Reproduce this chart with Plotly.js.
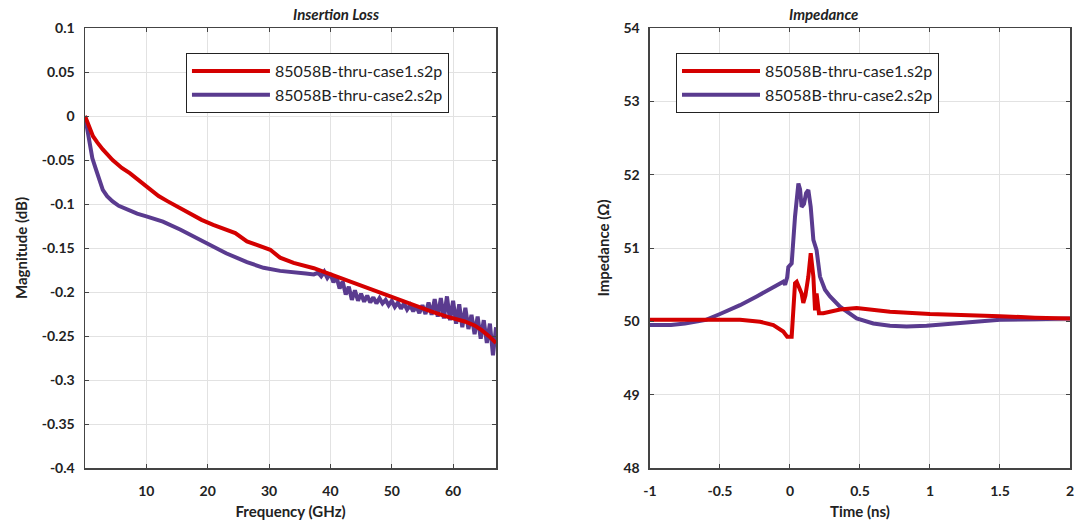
<!DOCTYPE html>
<html>
<head>
<meta charset="utf-8">
<script src="https://cdn.plot.ly/plotly-3.0.1.min.js"></script>
<style>
  html, body { margin: 0; padding: 0; background: #ffffff; }
  #chart { width: 1075px; height: 527px; }
</style>
</head>
<body>
<div id="chart"></div>
<script>
// ---------- Data: Insertion Loss (left) ----------
const seriesNames = ["85058B-thru-case1.s2p", "85058B-thru-case2.s2p"];

const ilFreqCase1 = [0, 0.2, 0.6, 1.3, 2, 2.9, 4.5, 6, 7.3, 8.5, 10, 12, 13.5, 15.5, 17, 19, 20.9, 22.5, 24.5, 26.4, 28, 30.2, 31.8, 34, 37.3, 40, 43, 46, 49.9, 53, 56.4, 59, 61.9, 63.5, 64.6, 66, 67];
const ilMagCase1 = [0, -0.004, -0.012, -0.023, -0.03, -0.038, -0.050, -0.059, -0.065, -0.072, -0.080, -0.091, -0.097, -0.1045, -0.111, -0.118, -0.1236, -0.128, -0.133, -0.1425, -0.147, -0.152, -0.161, -0.167, -0.173, -0.180, -0.188, -0.196, -0.205, -0.213, -0.222, -0.228, -0.2335, -0.238, -0.243, -0.251, -0.258];

const ilFreqCase2 = [0, 0.3, 0.72, 1.2, 1.8, 2.3, 2.9, 3.6, 4.5, 5.5, 7.3, 8.5, 10, 12.7, 15.5, 18, 20.9, 23, 26.4, 29.1, 31.8, 34, 36, 37.3,
  38, 38.5, 39, 39.5, 40, 40.5, 41, 41.5, 42, 42.5, 43, 43.5, 44, 44.5, 45, 45.5, 46, 46.5, 47, 47.5, 48, 48.5, 49, 49.5,
  50, 50.5, 51, 51.5, 52, 52.5, 53, 53.5, 54, 54.5, 55, 55.5, 56, 56.5, 57, 57.5, 58, 58.5, 59, 59.5,
  60, 60.5, 61, 61.5, 62, 62.5, 63, 63.5, 64, 64.5, 65, 65.5, 66, 66.5, 67];
const ilMagCase2 = [0, -0.012, -0.034, -0.048, -0.061, -0.073, -0.084, -0.091, -0.097, -0.102, -0.108, -0.111, -0.114, -0.120, -0.129, -0.138, -0.149, -0.156, -0.166, -0.1725, -0.176, -0.177, -0.179, -0.180,
  -0.178, -0.182, -0.177, -0.184, -0.179, -0.189, -0.183, -0.196, -0.188, -0.203, -0.194, -0.209, -0.198, -0.210, -0.202, -0.211, -0.204, -0.212, -0.206, -0.213, -0.207, -0.213, -0.209, -0.215,
  -0.210, -0.217, -0.212, -0.219, -0.213, -0.220, -0.215, -0.222, -0.216, -0.224, -0.215, -0.225, -0.212, -0.226, -0.208, -0.228, -0.207, -0.230, -0.205, -0.232,
  -0.210, -0.236, -0.214, -0.240, -0.218, -0.242, -0.226, -0.248, -0.228, -0.253, -0.232, -0.258, -0.236, -0.272, -0.240];

const ilXTickVals = [10, 20, 30, 40, 50, 60];
const ilXTickText = ["10", "20", "30", "40", "50", "60"];
const ilYTickVals = [0.1, 0.05, 0, -0.05, -0.1, -0.15, -0.2, -0.25, -0.3, -0.35, -0.4];
const ilYTickText = ["0.1", "0.05", "0", "-0.05", "-0.1", "-0.15", "-0.2", "-0.25", "-0.3", "-0.35", "-0.4"];

// ---------- Data: Impedance (right) ----------
const zTimeCase1 = [-1, -0.75, -0.5, -0.357, -0.214, -0.119, -0.048, -0.02, 0.012, 0.024, 0.036, 0.048, 0.065, 0.083, 0.095, 0.11, 0.131, 0.148, 0.167, 0.179, 0.19, 0.207, 0.238, 0.3, 0.357, 0.476, 0.714, 1.0, 1.25, 1.5, 1.75, 2];
const zOhmCase1 = [50.02, 50.02, 50.02, 50.02, 49.995, 49.95, 49.86, 49.79, 49.79, 50.15, 50.52, 50.54, 50.45, 50.38, 50.25, 50.35, 50.61, 50.93, 50.61, 50.15, 50.38, 50.11, 50.11, 50.14, 50.16, 50.18, 50.13, 50.10, 50.09, 50.07, 50.05, 50.04];

const zTimeCase2 = [-1, -0.85, -0.75, -0.6, -0.5, -0.357, -0.238, -0.119, -0.071, -0.048, -0.035, -0.02, -0.012, 0.012, 0.036, 0.06, 0.072, 0.083, 0.1, 0.115, 0.131, 0.148, 0.167, 0.19, 0.214, 0.25, 0.286, 0.357, 0.476, 0.595, 0.714, 0.833, 0.976, 1.1, 1.21, 1.35, 1.5, 1.75, 2];
const zOhmCase2 = [49.95, 49.95, 49.97, 50.02, 50.1, 50.22, 50.34, 50.47, 50.52, 50.54, 50.5, 50.6, 50.74, 50.79, 51.43, 51.88, 51.8, 51.56, 51.6, 51.75, 51.79, 51.56, 51.11, 50.97, 50.61, 50.43, 50.34, 50.2, 50.04, 49.97, 49.94, 49.93, 49.94, 49.96, 49.98, 50.0, 50.02, 50.03, 50.04];

const zXTickVals = [-1, -0.5, 0, 0.5, 1, 1.5, 2];
const zXTickText = ["-1", "-0.5", "0", "0.5", "1", "1.5", "2"];
const zYTickVals = [48, 49, 50, 51, 52, 53, 54];
const zYTickText = ["48", "49", "50", "51", "52", "53", "54"];

// ---------- Styles ----------
const RED = "#d40000";
const PURPLE = "#5a3b8f";
const FONT = "Lato, 'Open Sans', sans-serif";

const traces = [
  { x: ilFreqCase2, y: ilMagCase2, name: seriesNames[1], type: "scatter", mode: "lines",
    line: { color: PURPLE, width: 4 }, xaxis: "x", yaxis: "y", legend: "legend", legendrank: 2 },
  { x: ilFreqCase1, y: ilMagCase1, name: seriesNames[0], type: "scatter", mode: "lines",
    line: { color: RED, width: 4 }, xaxis: "x", yaxis: "y", legend: "legend", legendrank: 1 },
  { x: zTimeCase2, y: zOhmCase2, name: seriesNames[1], type: "scatter", mode: "lines",
    line: { color: PURPLE, width: 4 }, xaxis: "x2", yaxis: "y2", legend: "legend2", legendrank: 2 },
  { x: zTimeCase1, y: zOhmCase1, name: seriesNames[0], type: "scatter", mode: "lines",
    line: { color: RED, width: 4 }, xaxis: "x2", yaxis: "y2", legend: "legend2", legendrank: 1 }
];

function axisBase(extra) {
  return Object.assign({
    showgrid: true, gridcolor: "#e2e2e2", gridwidth: 1,
    showline: true, linecolor: "#444444", linewidth: 1.5, mirror: "ticks",
    ticks: "inside", ticklen: 4, tickcolor: "#444444", tickwidth: 1,
    zeroline: false, automargin: false, fixedrange: true,
    tickmode: "array",
    tickfont: { family: FONT, size: 14, color: "#222222", weight: 700 }
  }, extra);
}

const legendBase = {
  bgcolor: "#ffffff", bordercolor: "#222222", borderwidth: 1,
  font: { family: FONT, size: 16, color: "#222222" },
  xanchor: "left", yanchor: "top", tracegroupgap: 0, itemwidth: 78
};

const layout = {
  width: 1075, height: 527,
  margin: { l: 85, r: 5, t: 28, b: 59 },
  paper_bgcolor: "#ffffff", plot_bgcolor: "#ffffff",
  font: { family: FONT, color: "#222222" },
  showlegend: true,
  xaxis: axisBase({ domain: [0, 0.4173], range: [0, 67], anchor: "y",
    tickvals: ilXTickVals, ticktext: ilXTickText, ticklabelstandoff: 10,
    title: { text: "Frequency (GHz)", font: { family: FONT, size: 15, weight: 700 }, standoff: 8 } }),
  yaxis: axisBase({ domain: [0, 1], range: [-0.4, 0.1], anchor: "x",
    tickvals: ilYTickVals, ticktext: ilYTickText, ticklabelstandoff: 6,
    title: { text: "Magnitude (dB)", font: { family: FONT, size: 15, weight: 700 }, standoff: 10 } }),
  xaxis2: axisBase({ domain: [0.5736, 1], range: [-1, 2], anchor: "y2",
    tickvals: zXTickVals, ticktext: zXTickText, ticklabelstandoff: 10,
    title: { text: "Time (ns)", font: { family: FONT, size: 15, weight: 700 }, standoff: 8 } }),
  yaxis2: axisBase({ domain: [0, 1], range: [48, 54], anchor: "x2",
    tickvals: zYTickVals, ticktext: zYTickText, ticklabelstandoff: 6,
    title: { text: "Impedance (Ω)", font: { family: FONT, size: 15, weight: 700 }, standoff: 10 } }),
  legend: Object.assign({}, legendBase, { x: 0.1025, y: 0.943 }),
  legend2: Object.assign({}, legendBase, { x: 0.6, y: 0.943 }),
  annotations: [
    { text: "Insertion Loss", xref: "paper", yref: "paper", x: 0.2087, y: 1, yanchor: "bottom", yshift: 3,
      showarrow: false, font: { family: FONT, size: 15, style: "italic", weight: 700, color: "#222222" } },
    { text: "Impedance", xref: "paper", yref: "paper", x: 0.7868, y: 1, yanchor: "bottom", yshift: 3,
      showarrow: false, font: { family: FONT, size: 15, style: "italic", weight: 700, color: "#222222" } }
  ]
};

Plotly.newPlot("chart", traces, layout, { displayModeBar: false, staticPlot: true });
</script>
</body>
</html>
